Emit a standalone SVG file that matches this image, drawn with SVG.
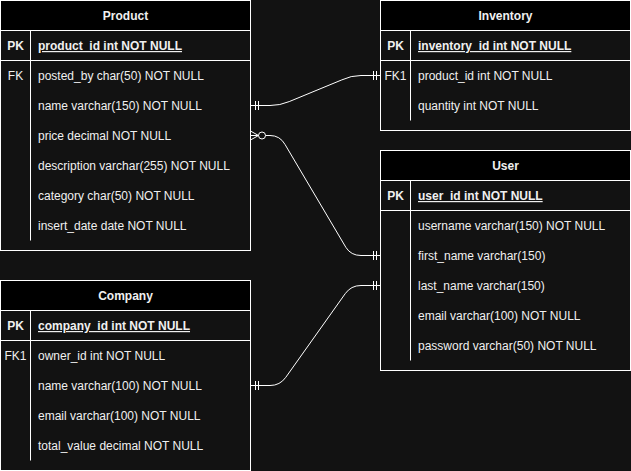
<svg xmlns="http://www.w3.org/2000/svg" width="631" height="471" viewBox="0 0 631 471">
<style>
.box{fill:#121212;stroke:#ffffff;stroke-width:1}
.hdr{fill:#000000;stroke:#ffffff;stroke-width:1}
.ln{stroke:#ffffff;stroke-width:1;fill:none}
.t{font-family:"Liberation Sans",Arial,sans-serif;font-size:12px;fill:#f0f0f0}
.h{font-weight:bold;text-anchor:middle}
.b{font-weight:bold}
.k{text-anchor:middle}
.u{text-decoration:underline}
.edge{stroke:#ffffff;stroke-width:1;fill:none}
</style>
<rect width="631" height="471" fill="#121212"/>

<g id="product">
<rect class="box" x="0.5" y="0.5" width="250" height="250"/>
<rect class="hdr" x="0.5" y="0.5" width="250" height="30"/>
<text class="t h" x="125.5" y="20">Product</text>
<line class="ln" x1="0.5" y1="60.5" x2="250.5" y2="60.5"/>
<line class="ln" x1="30.5" y1="30.5" x2="30.5" y2="240.5"/>
<text class="t b k" x="15.5" y="50">PK</text>
<text class="t b u" x="38" y="50">product_id int NOT NULL</text>
<text class="t k" x="15.5" y="80">FK</text>
<text class="t" x="38" y="80">posted_by char(50) NOT NULL</text>
<text class="t" x="38" y="110">name varchar(150) NOT NULL</text>
<text class="t" x="38" y="140">price decimal NOT NULL</text>
<text class="t" x="38" y="170">description varchar(255) NOT NULL</text>
<text class="t" x="38" y="200">category char(50) NOT NULL</text>
<text class="t" x="38" y="230">insert_date date NOT NULL</text>
</g>

<g id="inventory">
<rect class="box" x="380.5" y="0.5" width="250" height="130"/>
<rect class="hdr" x="380.5" y="0.5" width="250" height="30"/>
<text class="t h" x="505.5" y="20">Inventory</text>
<line class="ln" x1="380.5" y1="60.5" x2="630.5" y2="60.5"/>
<line class="ln" x1="410.5" y1="30.5" x2="410.5" y2="120.5"/>
<text class="t b k" x="395.5" y="50">PK</text>
<text class="t b u" x="418" y="50">inventory_id int NOT NULL</text>
<text class="t k" x="395.5" y="80">FK1</text>
<text class="t" x="418" y="80">product_id int NOT NULL</text>
<text class="t" x="418" y="110">quantity int NOT NULL</text>
</g>

<g id="user">
<rect class="box" x="380.5" y="150.5" width="250" height="220"/>
<rect class="hdr" x="380.5" y="150.5" width="250" height="30"/>
<text class="t h" x="505.5" y="170">User</text>
<line class="ln" x1="380.5" y1="210.5" x2="630.5" y2="210.5"/>
<line class="ln" x1="410.5" y1="180.5" x2="410.5" y2="360.5"/>
<text class="t b k" x="395.5" y="200">PK</text>
<text class="t b u" x="418" y="200">user_id int NOT NULL</text>
<text class="t" x="418" y="230">username varchar(150) NOT NULL</text>
<text class="t" x="418" y="260">first_name varchar(150)</text>
<text class="t" x="418" y="290">last_name varchar(150)</text>
<text class="t" x="418" y="320">email varchar(100) NOT NULL</text>
<text class="t" x="418" y="350">password varchar(50) NOT NULL</text>
</g>

<g id="company">
<rect class="box" x="0.5" y="280.5" width="250" height="190"/>
<rect class="hdr" x="0.5" y="280.5" width="250" height="30"/>
<text class="t h" x="125.5" y="300">Company</text>
<line class="ln" x1="0.5" y1="340.5" x2="250.5" y2="340.5"/>
<line class="ln" x1="30.5" y1="310.5" x2="30.5" y2="460.5"/>
<text class="t b k" x="15.5" y="330">PK</text>
<text class="t b u" x="38" y="330">company_id int NOT NULL</text>
<text class="t k" x="15.5" y="360">FK1</text>
<text class="t" x="38" y="360">owner_id int NOT NULL</text>
<text class="t" x="38" y="390">name varchar(100) NOT NULL</text>
<text class="t" x="38" y="420">email varchar(100) NOT NULL</text>
<text class="t" x="38" y="450">total_value decimal NOT NULL</text>
</g>

<g id="connectors">
<path class="edge" d="M250.5,105.5 L270,105.5 Q280,105.5 289.2,101.6 L341.8,79.9 Q351,75.5 361,75.5 L380.5,75.5"/>
<path class="edge" d="M255.5,101 V110 M258.5,101 V110 M373.5,71 V80 M376.5,71 V80"/>
<path class="edge" d="M265.5,135.5 L270,135.5 Q280,135.5 285.1,144.6 L345.9,247.4 Q351,255.5 361,255.5 L380.5,255.5"/>
<circle class="edge" cx="262" cy="135.5" r="3.5"/>
<path class="edge" d="M250.5,131 L258.5,135.5 L250.5,140 M250.5,135.5 H258.5"/>
<path class="edge" d="M373.5,251 V260 M376.5,251 V260"/>
<path class="edge" d="M250.5,385.5 L270,385.5 Q280,385.5 285.8,377.3 L345.2,293.7 Q351,285.5 361,285.5 L380.5,285.5"/>
<path class="edge" d="M255.5,381 V390 M258.5,381 V390 M373.5,281 V290 M376.5,281 V290"/>
</g>
</svg>
